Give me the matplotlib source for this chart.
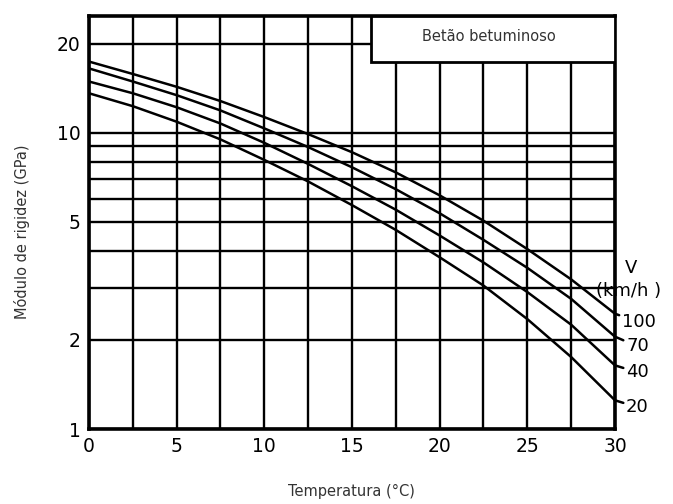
import matplotlib
matplotlib.use('Agg')
import matplotlib.pyplot as plt
from matplotlib.patches import Rectangle
from matplotlib.ticker import FixedLocator, NullFormatter

# Temperature (°C) and stiffness modulus (GPa)
temperature = [0, 2.5, 5, 7.5, 10, 12.5, 15, 17.5, 20, 22.5, 25, 27.5, 30]
modulus_v100 = [17.4, 15.8, 14.3, 12.8, 11.3, 9.9, 8.6, 7.35, 6.15, 5.05, 4.05, 3.2, 2.45]
modulus_v70 = [16.5, 14.9, 13.4, 11.9, 10.35, 8.95, 7.65, 6.45, 5.35, 4.35, 3.5, 2.75, 2.05]
modulus_v40 = [14.9, 13.6, 12.2, 10.75, 9.25, 7.85, 6.6, 5.5, 4.5, 3.65, 2.9, 2.25, 1.64]
modulus_v20 = [13.6, 12.3, 10.9, 9.5, 8.1, 6.85, 5.7, 4.7, 3.8, 3.05, 2.35, 1.75, 1.25]
speed_labels = ['100', '70', '40', '20']

x_ticks = [0, 5, 10, 15, 20, 25, 30]
x_grid = [2.5, 7.5, 12.5, 17.5, 22.5, 27.5]
y_ticks = [1, 2, 5, 10, 20]
y_grid = [3, 4, 6, 7, 8, 9]

fig = plt.figure(figsize=(6.73, 5.04), dpi=100)
ax = fig.add_axes([0.1322, 0.1488, 0.7816, 0.8195])

ax.set_yscale('log')
ax.set_xlim(0, 30)
ax.set_ylim(1, 24.8)

# grid
ax.xaxis.set_major_locator(FixedLocator(x_ticks))
ax.xaxis.set_minor_locator(FixedLocator(x_grid))
ax.yaxis.set_major_locator(FixedLocator(y_ticks))
ax.yaxis.set_minor_locator(FixedLocator(y_grid))
ax.yaxis.set_major_formatter(plt.FixedFormatter([str(v) for v in y_ticks]))
ax.yaxis.set_minor_formatter(NullFormatter())
ax.grid(which='both', color='black', linewidth=1.7)
ax.tick_params(which='both', length=0, labelsize=13.5, pad=6)
for s in ax.spines.values():
    s.set_linewidth(2.6)

# curves
series = [modulus_v100, modulus_v70, modulus_v40, modulus_v20]
offsets = [(5, -6), (8, -7), (8, -5), (8, -5)]
for vals, lab, off in zip(series, speed_labels, offsets):
    ax.plot(temperature, vals, color='black', linewidth=1.8, zorder=3)
    ax.annotate(lab, xy=(temperature[-1], vals[-1]), xytext=off,
                textcoords='offset points', ha='left', va='center',
                fontsize=13, annotation_clip=False,
                arrowprops=dict(arrowstyle='-', color='black', lw=1.8,
                                shrinkA=0, shrinkB=0))

ax.text(30.9, 3.5, 'V', fontsize=13, ha='center', va='center', clip_on=False)
ax.text(30.75, 2.93, '(km/h )', fontsize=13, ha='center', va='center', clip_on=False)

# title box
ax.add_patch(Rectangle((16.1, 17.4), 30 - 16.1, 24.8 - 17.4, facecolor='white',
                       edgecolor='black', linewidth=2.0, zorder=4))
ax.text(22.8, 21.2, 'Betão betuminoso', fontsize=10.5, ha='center', va='center',
        color='#333333', zorder=5)

fig.text(0.522, 0.024, 'Temperatura (°C)', fontsize=10.5, ha='center', va='center',
         color='#333333')
fig.text(0.033, 0.54, 'Módulo de rigidez (GPa)', fontsize=10.5, ha='center',
         va='center', rotation=90, color='#333333')

fig.savefig('out.png', dpi=100)
